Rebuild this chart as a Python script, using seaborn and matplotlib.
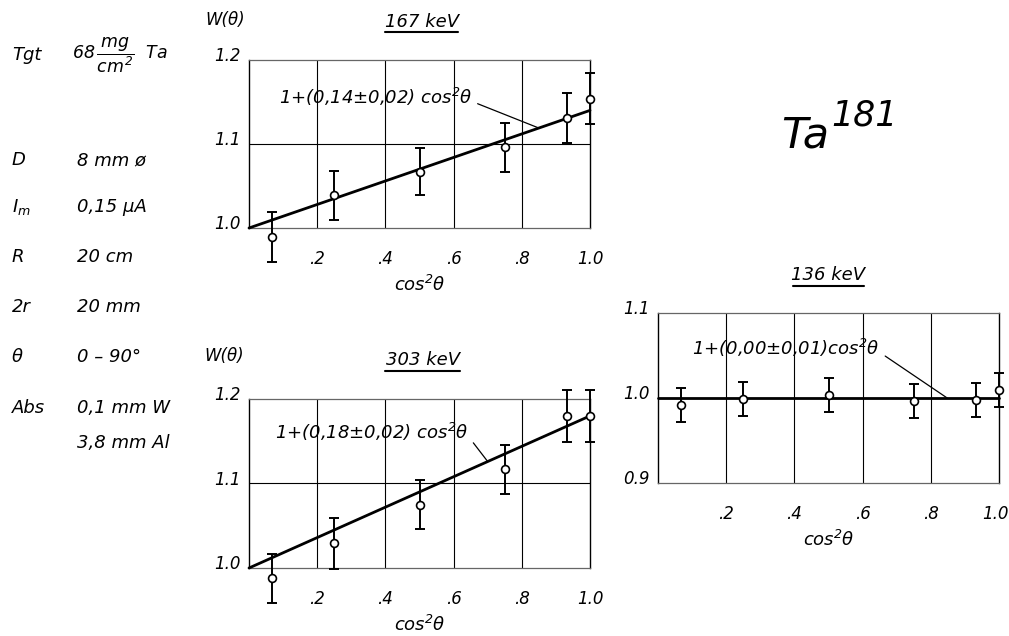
import matplotlib
matplotlib.use("Agg")
import matplotlib.pyplot as plt
from matplotlib.lines import Line2D
from matplotlib.transforms import ScaledTranslation
import numpy as np
import pandas as pd
import seaborn as sns

# ---------------- data ----------------
cos2 = [0.067, 0.25, 0.5, 0.75, 0.933, 1.0]

w167 = [0.989, 1.039, 1.067, 1.096, 1.131, 1.154]
e167 = [0.030, 0.029, 0.028, 0.029, 0.030, 0.030]
a167 = 0.14

w303 = [0.988, 1.029, 1.075, 1.117, 1.180, 1.180]
e303 = [0.029, 0.030, 0.029, 0.029, 0.031, 0.031]
a303 = 0.18

w136 = [0.992, 0.999, 1.003, 0.996, 0.998, 1.009]
e136 = [0.020, 0.020, 0.020, 0.020, 0.020, 0.020]
a136 = 0.00

fit_x = [0.0, 1.0]

xticks = [0.2, 0.4, 0.6, 0.8, 1.0]
xticklabels = [".2", ".4", ".6", ".8", "1.0"]
yticks_l = [1.0, 1.1, 1.2]
yticklabels_l = ["1.0", "1.1", "1.2"]
yticks_r = [0.9, 1.0, 1.1]
yticklabels_r = ["0.9", "1.0", "1.1"]

fit_labels = {
    "167": r"1+(0,14$\pm$0,02) cos$^{2}$θ",
    "303": r"1+(0,18$\pm$0,02) cos$^{2}$θ",
    "136": r"1+(0,00$\pm$0,01)cos$^{2}$θ",
}

params_names = ["Tgt", "D", r"$I_m$", "R", "2r", "θ", "Abs", ""]
params_values = [r"68$\,\dfrac{mg}{cm^{2}}\ \ $Ta", "8 mm ø", "0,15 µA", "20 cm",
                 "20 mm", "0 – 90°", "0,1 mm W", "3,8 mm Al"]

# ---------------- style ----------------
sns.set_theme(style="white")
plt.rcParams["font.family"] = ["DejaVu Sans"]
plt.rcParams["font.style"] = "italic"
plt.rcParams["mathtext.fontset"] = "custom"
plt.rcParams["mathtext.rm"] = "DejaVu Sans:italic"
plt.rcParams["mathtext.it"] = "DejaVu Sans:italic"
plt.rcParams["mathtext.sf"] = "DejaVu Sans:italic"
plt.rcParams["text.color"] = "black"
plt.rcParams["axes.labelcolor"] = "black"
plt.rcParams["xtick.color"] = "black"
plt.rcParams["ytick.color"] = "black"

W, H = 1009, 636
fig = plt.figure(figsize=(W / 100, H / 100), dpi=100)
fig.patch.set_facecolor("white")


def px_axes(x0, y0, x1, y1):
    return fig.add_axes([x0 / W, 1 - y1 / H, (x1 - x0) / W, (y1 - y0) / H])


def ftext(x, y, s, **kw):
    return fig.text(x / W, 1 - y / H, s, **kw)


def underline(x0, x1, y):
    fig.add_artist(Line2D([x0 / W, x1 / W], [1 - y / H, 1 - y / H],
                          color="black", lw=1.5, transform=fig.transFigure))


def panel(ax, w, e, a, ylim, yticks, yticklabels, grid_y, label, txy, axy,
          last_shift=0):
    df = pd.DataFrame({"x": cos2, "y": w})
    fit = pd.DataFrame({"x": fit_x, "y": [1 + a * v for v in fit_x]})
    sns.lineplot(data=fit, x="x", y="y", ax=ax, color="black", lw=2.0,
                 zorder=3, clip_on=False)
    ax.errorbar(cos2, w, yerr=e, fmt="none", ecolor="black", elinewidth=1.4,
                capsize=3.5, capthick=1.4, zorder=4, clip_on=False)
    sns.scatterplot(data=df, x="x", y="y", ax=ax, marker="o", s=32,
                    facecolor="white", edgecolor="black", linewidth=1.2,
                    zorder=5, clip_on=False)
    ax.set_xlim(0, 1.0)
    ax.set_ylim(*ylim)
    ax.set_xticks(xticks)
    ax.set_xticklabels(xticklabels, fontsize=12)
    ax.set_yticks(yticks)
    ax.set_yticklabels(yticklabels, fontsize=12)
    ax.tick_params(axis="both", length=0, labelcolor="black")
    ax.tick_params(axis="x", pad=16)
    ax.tick_params(axis="y", pad=6)
    for lab in ax.get_yticklabels():
        lab.set_transform(lab.get_transform() +
                          ScaledTranslation(0, 4 / 72, fig.dpi_scale_trans))
    if last_shift:
        lab = ax.get_xticklabels()[-1]
        lab.set_transform(lab.get_transform() +
                          ScaledTranslation(last_shift / 100, 0,
                                            fig.dpi_scale_trans))
    for xv in xticks[:-1]:
        ax.axvline(xv, color="black", lw=0.8, zorder=1)
    ax.axhline(grid_y, color="black", lw=0.8, zorder=1)
    for side in ["left", "right"]:
        ax.spines[side].set_color("black")
        ax.spines[side].set_linewidth(1.0)
    for side in ["top", "bottom"]:
        ax.spines[side].set_color("#666666")
        ax.spines[side].set_linewidth(0.9)
    ax.set_xlabel(r"cos$^{2}$θ", fontsize=13, labelpad=5, color="black")
    ax.set_ylabel("")
    ax.annotate(label, xy=axy, xytext=txy, ha="center", va="center",
                fontsize=13,
                arrowprops=dict(arrowstyle="-", color="black", lw=0.9,
                                relpos=(1.0, 0.3), shrinkA=2, shrinkB=0))
    ax.set_facecolor("white")


ax1 = px_axes(249, 60, 590, 228)
panel(ax1, w167, e167, a167, (1.0, 1.2), yticks_l, yticklabels_l, 1.1,
      fit_labels["167"], (0.37, 1.156), (0.85, 1.119))

ax2 = px_axes(249, 399, 590, 568)
panel(ax2, w303, e303, a303, (1.0, 1.2), yticks_l, yticklabels_l, 1.1,
      fit_labels["303"], (0.36, 1.161), (0.70, 1.126))

ax3 = px_axes(658, 313, 999, 483)
panel(ax3, w136, e136, a136, (0.9, 1.1), yticks_r, yticklabels_r, 1.0,
      fit_labels["136"], (0.375, 1.059), (0.848, 1.0), last_shift=-4)

# titles
ftext(422, 22, "167 keV", ha="center", va="center", fontsize=13)
underline(385, 458, 32)
ftext(423, 360, "303 keV", ha="center", va="center", fontsize=13)
underline(385, 460, 371)
ftext(828, 275, "136 keV", ha="center", va="center", fontsize=13)
underline(793, 864, 286)

# y labels
ftext(225, 20, "W(θ)", ha="center", va="center", fontsize=12)
ftext(224, 356, "W(θ)", ha="center", va="center", fontsize=12)

# nucleus label
ftext(781, 147, "Ta", ha="left", va="baseline", fontsize=31)
ftext(831, 125, "181", ha="left", va="baseline", fontsize=25)

# parameters column
rows_y = [55, 160, 207, 257, 307, 357, 408, 443]
for name, val, y in zip(params_names, params_values, rows_y):
    if name:
        ftext(12, y, name, ha="left", va="center", fontsize=13)
    xv = 72 if val.startswith("68") else 77
    ftext(xv, y, val, ha="left", va="center",
          fontsize=12.5 if val.startswith("68") else 13)

fig.savefig("out.png", dpi=100, facecolor="white")
